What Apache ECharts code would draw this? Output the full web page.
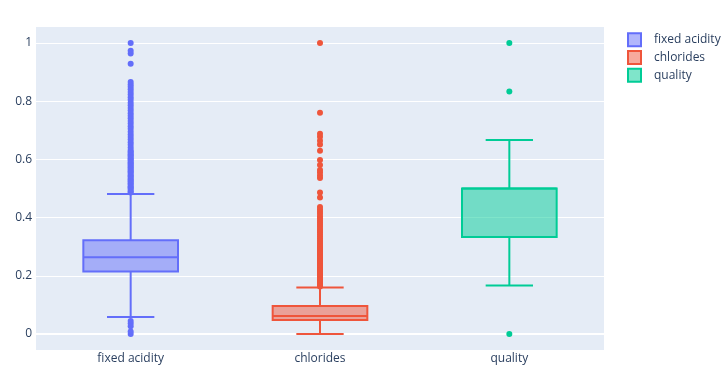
<!DOCTYPE html>
<html>
<head>
<meta charset="utf-8">
<script src="https://cdn.jsdelivr.net/npm/echarts@6/dist/echarts.min.js"></script>
<style>html,body{margin:0;padding:0;background:#fff;}#c{width:728px;height:376px;}</style>
</head>
<body>
<div id="c"></div>
<script>
const categories = ['fixed acidity', 'chlorides', 'quality'];
const colors = ['#636efa', '#EF553B', '#00cc96'];
const fills = ['rgba(99,110,250,0.5)', 'rgba(239,85,59,0.5)', 'rgba(0,204,150,0.5)'];
// [lower fence, q1, median, q3, upper fence]
const fixedAcidityBox = [0.058, 0.215, 0.264, 0.322, 0.481];
const chloridesBox = [0.0, 0.048, 0.062, 0.096, 0.160];
const qualityBox = [0.167, 0.333, 0.5, 0.5, 0.667];
const fixedAcidityOutliers = [0.0, 0.009, 0.027, 0.036, 0.045,
  0.486, 0.49, 0.495, 0.5, 0.504, 0.508, 0.514, 0.518, 0.523, 0.527, 0.532, 0.536, 0.541, 0.545,
  0.55, 0.555, 0.559, 0.564, 0.568, 0.573, 0.577, 0.582, 0.586, 0.59, 0.595, 0.6, 0.604, 0.609,
  0.613, 0.618, 0.623, 0.627, 0.632, 0.641, 0.65, 0.659, 0.668, 0.677, 0.686, 0.695, 0.705,
  0.714, 0.723, 0.732, 0.741, 0.75, 0.759, 0.768, 0.777, 0.786, 0.795, 0.805, 0.814, 0.823,
  0.832, 0.841, 0.85, 0.857, 0.866, 0.929, 0.964, 0.973, 1.0];
const chloridesOutliers = [0.163, 0.167, 0.171, 0.175, 0.18, 0.184, 0.188, 0.193, 0.197, 0.201,
  0.205, 0.21, 0.214, 0.218, 0.223, 0.227, 0.231, 0.236, 0.24, 0.245, 0.249, 0.253, 0.258,
  0.262, 0.267, 0.271, 0.275, 0.28, 0.284, 0.289, 0.294, 0.298, 0.303, 0.309, 0.316, 0.322,
  0.329, 0.336, 0.343, 0.35, 0.356, 0.362, 0.369, 0.376, 0.383, 0.39, 0.398, 0.405, 0.413,
  0.42, 0.428, 0.436, 0.469, 0.486, 0.536, 0.545, 0.555, 0.564, 0.581, 0.598, 0.63, 0.651,
  0.664, 0.678, 0.688, 0.76, 1.0];
const qualityOutliers = [0.0, 0.833, 1.0];
const yTicks = [0, 0.2, 0.4, 0.6, 0.8, 1];

const boxes = [fixedAcidityBox, chloridesBox, qualityBox];
const outliers = [fixedAcidityOutliers, chloridesOutliers, qualityOutliers];
const txt = '#2a3f5f';
const font = "'Open Sans', Verdana, Arial, sans-serif";

function makeRender(i) {
  return function (params, api) {
    const x = api.value(0);
    const lo = api.coord([x, api.value(1)]);
    const q1 = api.coord([x, api.value(2)]);
    const med = api.coord([x, api.value(3)]);
    const q3 = api.coord([x, api.value(4)]);
    const hi = api.coord([x, api.value(5)]);
    const band = api.size([1, 0])[0];
    const bw = band * 0.5;
    const cx = lo[0];
    const st = { stroke: colors[i], lineWidth: 2, fill: null };
    return {
      type: 'group',
      children: [
        { type: 'line', shape: { x1: cx, y1: hi[1], x2: cx, y2: q3[1] }, style: st },
        { type: 'line', shape: { x1: cx, y1: q1[1], x2: cx, y2: lo[1] }, style: st },
        { type: 'line', shape: { x1: cx - bw / 4, y1: hi[1], x2: cx + bw / 4, y2: hi[1] }, style: st },
        { type: 'line', shape: { x1: cx - bw / 4, y1: lo[1], x2: cx + bw / 4, y2: lo[1] }, style: st },
        { type: 'rect', shape: { x: cx - bw / 2, y: q3[1], width: bw, height: q1[1] - q3[1] },
          style: { fill: fills[i], stroke: colors[i], lineWidth: 2 } },
        { type: 'line', shape: { x1: cx - bw / 2, y1: med[1], x2: cx + bw / 2, y2: med[1] }, style: st }
      ]
    };
  };
}

const series = [];
categories.forEach(function (name, i) {
  const b = boxes[i];
  const s = {
    name: name,
    type: 'custom',
    renderItem: makeRender(i),
    encode: { x: 0, y: [1, 2, 3, 4, 5] },
    data: [[i, b[0], b[1], b[2], b[3], b[4]]],
    itemStyle: { color: colors[i] },
    z: 3
  };
  if (i === 0) {
    s.markLine = {
      silent: true, symbol: 'none', label: { show: false },
      lineStyle: { color: '#ffffff', width: 2, type: 'solid' },
      data: [{ yAxis: 0 }],
      z: 1
    };
  }
  series.push(s);
  series.push({
    name: name,
    type: 'scatter',
    symbolSize: 6,
    itemStyle: { color: colors[i], opacity: 1 },
    data: outliers[i].map(function (v) { return [i, v]; }),
    z: 4
  });
});

const chart = echarts.init(document.getElementById('c'), null, { renderer: 'canvas' });
chart.setOption({
  backgroundColor: '#ffffff',
  animation: false,
  textStyle: { fontFamily: font },
  grid: { left: 36, right: 124, top: 27, bottom: 26, show: true, backgroundColor: '#E5ECF6', borderWidth: 0 },
  legend: {
    orient: 'vertical', left: 622, top: 26,
    itemWidth: 13, itemHeight: 13, itemGap: 0,
    icon: 'rect',
    textStyle: { color: txt, fontSize: 12, fontFamily: font, lineHeight: 17.7, padding: [0, 0, 0, 8] },
    data: categories.map(function (n, i) {
      return { name: n, itemStyle: { color: fills[i], borderColor: colors[i], borderWidth: 2 } };
    })
  },
  xAxis: {
    type: 'category',
    data: categories,
    axisLine: { show: false },
    axisTick: { show: false },
    splitLine: { show: false },
    axisLabel: { color: txt, fontSize: 12, fontFamily: font, margin: 3 }
  },
  yAxis: {
    type: 'value',
    min: -0.055, max: 1.055,
    axisLine: { show: false },
    axisTick: { show: false, customValues: yTicks },
    splitLine: { show: true, lineStyle: { color: '#ffffff', width: 1 } },
    axisLabel: { color: txt, fontSize: 12, fontFamily: font, margin: 4, customValues: yTicks }
  },
  series: series
});
</script>
</body>
</html>
